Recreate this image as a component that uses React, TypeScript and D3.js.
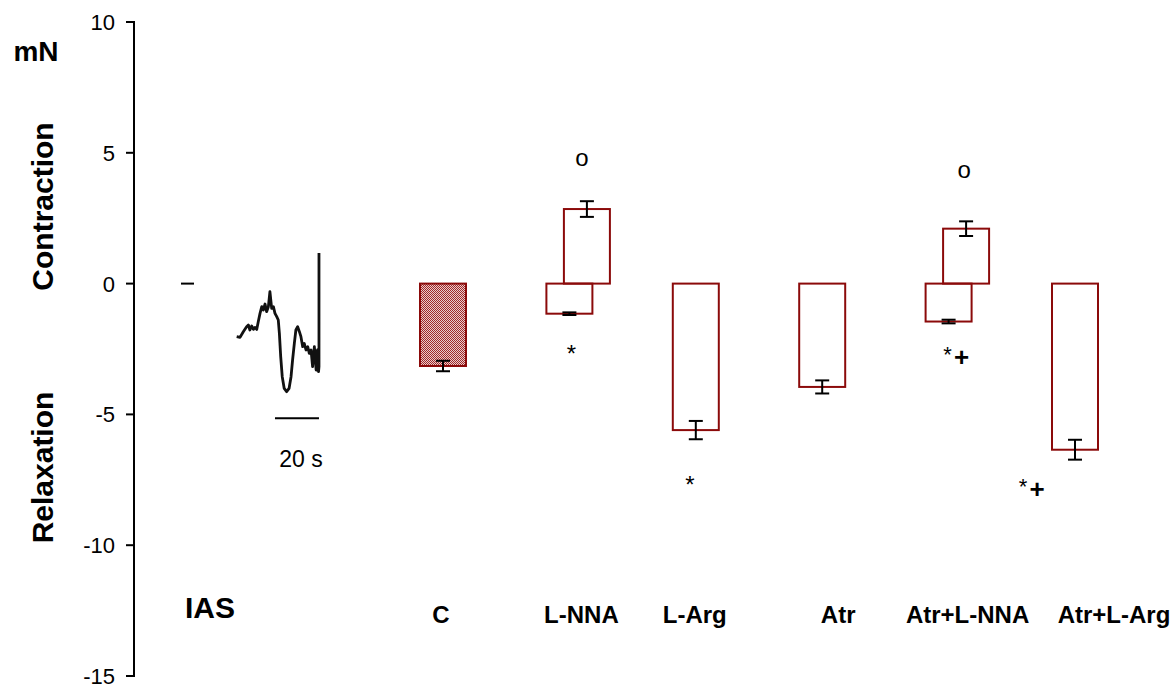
import React from "react";
import * as d3 from "d3";

// Treatment groups along the x axis
const categories = ["C", "L-NNA", "L-Arg", "Atr", "Atr+L-NNA", "Atr+L-Arg"];

// Relaxation (negative) component per group, mN
const relaxMean = [-3.15, -1.15, -5.6, -3.95, -1.45, -6.35];
const relaxErr = [0.2, 0.05, 0.35, 0.25, 0.07, 0.38];

// Contraction (positive) component, only for the L-NNA groups
const contractCats = ["L-NNA", "Atr+L-NNA"];
const contractMean = [2.85, 2.1];
const contractErr = [0.3, 0.28];

// Significance marks: "o" above contraction bars, "*" / "*+" below relaxation bars
const circleMarks = ["L-NNA", "Atr+L-NNA"];
const starMarks = [
  { cat: "L-NNA", plus: false },
  { cat: "L-Arg", plus: false },
  { cat: "Atr+L-NNA", plus: true },
  { cat: "Atr+L-Arg", plus: true },
];

const yTicks = [10, 5, 0, -5, -10, -15];

// Representative IAS recording: time (s) vs tension (a.u.)
const traceT = [
  0, 1.5, 3.0, 4.5, 5.3, 6.0, 6.8, 7.6, 8.3, 9.1, 9.8, 10.6, 11.4, 12.1, 12.9,
  13.6, 14.4, 15.1, 15.9, 16.7, 17.4, 18.2, 18.9, 19.4, 20.0, 20.7, 21.6, 22.7,
  23.8, 24.7, 25.4, 26.2, 26.9, 27.7, 28.5, 29.2, 30.0, 30.7, 31.5, 32.3, 33.0,
  33.8, 34.5, 35.3, 36.1, 36.7, 37.2, 37.4, 37.4,
];
const traceV = [
  0, -0.07, 0.5, 1.0, 1.17, 0.67, 1.07, 0.73, 0.93, 0.73, 1.5, 2.33, 3.0, 2.67,
  3.27, 2.5, 3.0, 4.5, 2.83, 3.0, 2.33, 2.0, 1.67, 0.33, -2.0, -4.0, -5.17,
  -5.5, -5.17, -4.0, -2.33, -0.67, 0.67, 1.0, 0.5, 0, -1.0, -0.67, -1.33, -1.0,
  -1.67, -1.33, -3.0, -1.0, -3.33, -1.33, -3.5, -3.0, 8.37,
];
const scaleBarSeconds = [17.4, 37.4];

const FONT = "'Liberation Sans', Arial, sans-serif";
const BAR_STROKE = "#8b0a0a";

export default function App() {
  const width = 1174;
  const height = 688;

  const y = d3.scaleLinear().domain([-15, 10]).range([676, 22]);
  const x = d3.scalePoint<string>().domain(categories).range([443, 1075]);
  const barW = 46;
  const pairShift = 17.5;
  const capW = 14;

  const tx = d3.scaleLinear().domain([0, 20]).range([236.7, 280.7]);
  const ty = d3.scaleLinear().domain([0, 10]).range([336.7, 236.7]);
  const tracePts: [number, number][] = traceT.map((t, i) => [t, traceV[i]]);
  const traceLine = d3
    .line<[number, number]>()
    .x((d) => tx(d[0]))
    .y((d) => ty(d[1]));

  const axisX = 134;

  // label placement relative to each group's position
  const labelDx = [-2, 12, -1, 16, 19, 39];
  const circleDx = [-5, -2];
  const circleBase = [166, 178];
  const starDx: Record<string, number> = { "L-NNA": 2, "L-Arg": -6, "Atr+L-NNA": -1, "Atr+L-Arg": -52 };
  const starBase: Record<string, number> = { "L-NNA": 362, "L-Arg": 493, "Atr+L-NNA": 362, "Atr+L-Arg": 494 };

  const errorBar = (cx: number, m: number, e: number, key: string) => (
    <g key={key} stroke="#000" strokeWidth={2}>
      <line x1={cx} x2={cx} y1={y(m + e)} y2={y(m - e)} />
      <line x1={cx - capW / 2} x2={cx + capW / 2} y1={y(m + e)} y2={y(m + e)} />
      <line x1={cx - capW / 2} x2={cx + capW / 2} y1={y(m - e)} y2={y(m - e)} />
    </g>
  );

  return (
    <svg
      width={width}
      height={height}
      style={{ position: "absolute", left: 0, top: 0, background: "#fff" }}
      fontFamily={FONT}
    >
      <defs>
        <pattern id="checker" width={2} height={2} patternUnits="userSpaceOnUse">
          <rect width={2} height={2} fill="#e9cccc" />
          <rect width={1} height={1} fill="#a02828" />
          <rect x={1} y={1} width={1} height={1} fill="#a02828" />
        </pattern>
      </defs>

      {/* y axis */}
      <line x1={axisX} x2={axisX} y1={y(10) - 1} y2={y(-15) + 1} stroke="#000" strokeWidth={2} />
      {yTicks.map((t) => (
        <g key={t}>
          <line x1={axisX - 8} x2={axisX} y1={y(t)} y2={y(t)} stroke="#000" strokeWidth={2} />
          <text x={115} y={y(t) + 8} textAnchor="end" fontSize={22}>
            {t}
          </text>
        </g>
      ))}

      {/* axis titles */}
      <text x={36} y={61} textAnchor="middle" fontSize={28} fontWeight="bold">
        mN
      </text>
      <text transform="translate(53,206.5) rotate(-90)" textAnchor="middle" fontSize={30} fontWeight="bold">
        Contraction
      </text>
      <text transform="translate(53,467.5) rotate(-90)" textAnchor="middle" fontSize={30} fontWeight="bold">
        Relaxation
      </text>
      <text x={210} y={618} textAnchor="middle" fontSize={30} fontWeight="bold">
        IAS
      </text>

      {/* sample recording */}
      <line x1={181} x2={194} y1={y(0)} y2={y(0)} stroke="#000" strokeWidth={2} />
      <path
        d={traceLine(tracePts) ?? ""}
        fill="none"
        stroke="#111"
        strokeWidth={2.8}
        strokeLinejoin="round"
      />
      <line
        x1={tx(scaleBarSeconds[0])}
        x2={tx(scaleBarSeconds[1])}
        y1={418.3}
        y2={418.3}
        stroke="#000"
        strokeWidth={2}
      />
      <text
        x={(tx(scaleBarSeconds[0]) + tx(scaleBarSeconds[1])) / 2 + 4}
        y={467}
        textAnchor="middle"
        fontSize={23}
      >
        20 s
      </text>

      {/* relaxation bars */}
      {categories.map((c, i) => (
        <rect
          key={"r" + c}
          x={x(c)! - barW / 2}
          y={y(0)}
          width={barW}
          height={y(relaxMean[i]) - y(0)}
          fill={c === "C" ? "url(#checker)" : "none"}
          stroke={BAR_STROKE}
          strokeWidth={2}
        />
      ))}
      {/* contraction bars */}
      {contractCats.map((c, i) => (
        <rect
          key={"c" + c}
          x={x(c)! + pairShift - barW / 2}
          y={y(contractMean[i])}
          width={barW}
          height={y(0) - y(contractMean[i])}
          fill="none"
          stroke={BAR_STROKE}
          strokeWidth={2}
        />
      ))}

      {/* error bars */}
      {categories.map((c, i) => errorBar(x(c)!, relaxMean[i], relaxErr[i], "er" + c))}
      {contractCats.map((c, i) => errorBar(x(c)! + pairShift, contractMean[i], contractErr[i], "ec" + c))}

      {/* significance marks */}
      {circleMarks.map((c, i) => (
        <text key={"o" + c} x={x(c)! + pairShift + circleDx[i]} y={circleBase[i]} textAnchor="middle" fontSize={24}>
          o
        </text>
      ))}
      {starMarks.map((s) => {
        const cx = x(s.cat)! + starDx[s.cat];
        const base = starBase[s.cat];
        return (
          <g key={"s" + s.cat}>
            <text x={cx} y={base} textAnchor="middle" fontSize={s.plus ? 22 : 24}>
              *
            </text>
            {s.plus && (
              <text x={cx + 14} y={base + 4} textAnchor="middle" fontSize={26} fontWeight="bold">
                +
              </text>
            )}
          </g>
        );
      })}

      {/* category labels */}
      {categories.map((c, i) => (
        <text key={"l" + c} x={x(c)! + labelDx[i]} y={623} textAnchor="middle" fontSize={24} fontWeight="bold">
          {c}
        </text>
      ))}
    </svg>
  );
}
